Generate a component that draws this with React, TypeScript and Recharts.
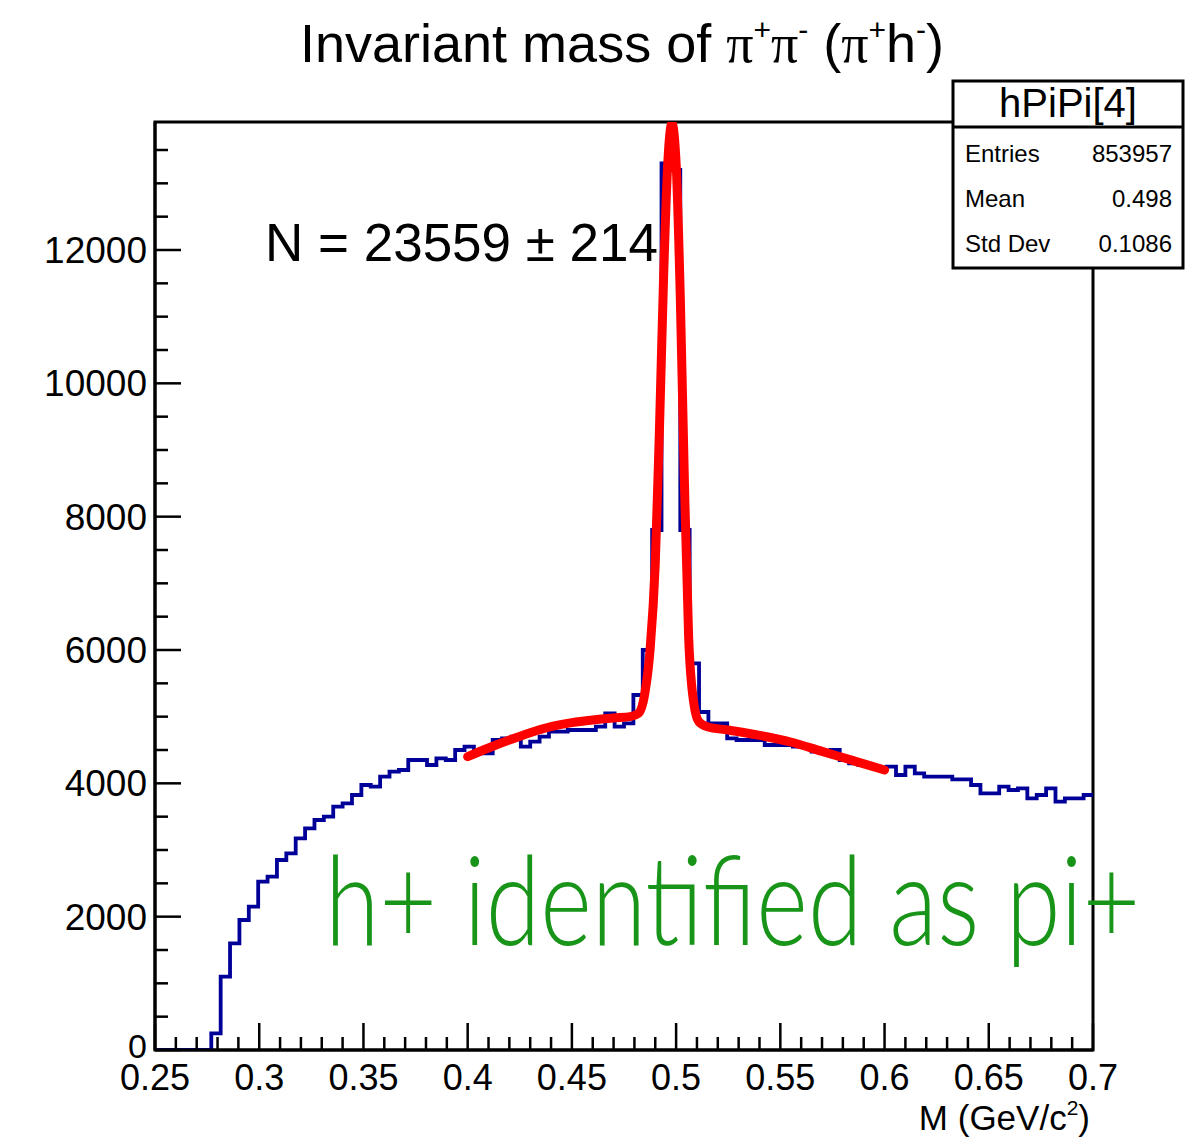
import { ComposedChart, Line, XAxis, YAxis, ReferenceArea } from 'recharts'

// histogram binning: 100 bins from 0.25 to 0.7
const BIN_START = 0.25
const BIN_WIDTH = 0.0045

// counts per bin
const COUNTS = [
  0, 0, 0, 0, 0, 0, 250, 1100, 1600, 1950,
  2150, 2525, 2600, 2850, 2950, 3175, 3325, 3450, 3500, 3650,
  3700, 3825, 3975, 3950, 4100, 4175, 4200, 4350, 4350, 4275,
  4375, 4350, 4500, 4550, 4450, 4450, 4650, 4675, 4700, 4550,
  4625, 4700, 4775, 4775, 4800, 4800, 4800, 4850, 5050, 4850,
  4900, 5325, 6000, 7800, 13300, 13200, 7800, 5800, 5070, 4900,
  4900, 4675, 4650, 4650, 4650, 4575, 4575, 4575, 4550, 4550,
  4475, 4475, 4500, 4350, 4300, 4275, 4250, 4225, 4250, 4125,
  4250, 4150, 4100, 4100, 4100, 4060, 4060, 3975, 3850, 3850,
  3950, 3900, 3925, 3775, 3825, 3925, 3725, 3775, 3775, 3825,
]

// red fit curve, sampled by eye
const FIT_M = [
  0.4, 0.41, 0.42, 0.43, 0.44, 0.45, 0.46, 0.47, 0.478, 0.482,
  0.485, 0.4875, 0.49, 0.492, 0.494, 0.496, 0.498, 0.5, 0.502, 0.504,
  0.506, 0.5085, 0.511, 0.515, 0.525, 0.54, 0.555, 0.57, 0.585, 0.6,
]
const FIT_Y = [
  4400, 4530, 4650, 4760, 4850, 4910, 4950, 4980, 5000, 5050,
  5350, 6000, 7300, 9300, 11600, 13300, 13900, 13300, 11300, 8500,
  6200, 5200, 4920, 4850, 4800, 4720, 4620, 4480, 4340, 4200,
]

const X_TICKS = [
  0.25, 0.26, 0.27, 0.28, 0.29, 0.3, 0.31, 0.32, 0.33, 0.34, 0.35, 0.36,
  0.37, 0.38, 0.39, 0.4, 0.41, 0.42, 0.43, 0.44, 0.45, 0.46, 0.47, 0.48,
  0.49, 0.5, 0.51, 0.52, 0.53, 0.54, 0.55, 0.56, 0.57, 0.58, 0.59, 0.6,
  0.61, 0.62, 0.63, 0.64, 0.65, 0.66, 0.67, 0.68, 0.69, 0.7,
]
const Y_TICKS = [
  0, 500, 1000, 1500, 2000, 2500, 3000, 3500, 4000, 4500, 5000, 5500, 6000,
  6500, 7000, 7500, 8000, 8500, 9000, 9500, 10000, 10500, 11000, 11500,
  12000, 12500, 13000, 13500,
]

const STATS = [
  { label: 'Entries', value: '853957' },
  { label: 'Mean', value: '0.498' },
  { label: 'Std Dev', value: '0.1086' },
]

const FONT = '"Liberation Sans", Arial, Helvetica, sans-serif'
const SERIF = '"Liberation Serif", "Times New Roman", serif'
const Y_MAX = 13920

const histData = COUNTS.map((c, k) => ({ m: +(BIN_START + BIN_WIDTH * k).toFixed(4), n: c }))
histData.push({ m: 0.7, n: COUNTS[COUNTS.length - 1] })

const fitData = FIT_M.map((m, i) => ({ m, n: FIT_Y[i] }))

function XTick(props: any) {
  const { x, y, payload } = props
  const v = payload.value as number
  const major = Math.round(v * 100) % 5 === 0
  return (
    <g>
      <line x1={x} x2={x} y1={y} y2={y - (major ? 27 : 13)} stroke="#000" strokeWidth={2.5} />
      {major && (
        <text x={x} y={y + 40} textAnchor="middle" fontSize={36} fontFamily={FONT} fill="#000">
          {String(v)}
        </text>
      )}
    </g>
  )
}

function YTick(props: any) {
  const { x, y, payload } = props
  const v = payload.value as number
  const major = v % 2000 === 0
  return (
    <g>
      <line x1={x} x2={x + (major ? 26 : 13)} y1={y} y2={y} stroke="#000" strokeWidth={2.5} />
      {major && (
        <text x={x - 8} y={v === 0 ? y + 8 : y + 13} textAnchor="end" fontSize={v === 0 ? 34 : 37} fontFamily={FONT} fill="#000">
          {String(v)}
        </text>
      )}
    </g>
  )
}

export default function App() {
  return (
    <div style={{ position: 'absolute', left: 0, top: 0, width: 1185, height: 1139, background: '#fff' }}>
      <ComposedChart
        width={1185}
        height={1139}
        data={histData}
        margin={{ top: 122, right: 92, bottom: 39, left: 75 }}
      >
        <XAxis
          dataKey="m"
          type="number"
          domain={[0.25, 0.7]}
          ticks={X_TICKS}
          interval={0}
          allowDataOverflow
          height={50}
          tickLine={false}
          tickSize={0}
          tickMargin={0}
          axisLine={{ stroke: '#000', strokeWidth: 3 }}
          tick={<XTick />}
        />
        <YAxis
          type="number"
          domain={[0, Y_MAX]}
          ticks={Y_TICKS}
          interval={0}
          allowDataOverflow
          width={80}
          tickLine={false}
          tickSize={0}
          tickMargin={0}
          axisLine={{ stroke: '#000', strokeWidth: 3 }}
          tick={<YTick />}
        />
        <ReferenceArea
          x1={0.25}
          x2={0.7}
          y1={0}
          y2={Y_MAX}
          fill="none"
          stroke="#000"
          strokeWidth={3}
          ifOverflow="visible"
        />
        <Line
          dataKey="n"
          type="stepAfter"
          stroke="#000099"
          strokeWidth={3.8}
          dot={false}
          activeDot={false}
          isAnimationActive={false}
        />
        <Line
          data={fitData}
          dataKey="n"
          type="monotone"
          stroke="#ff0000"
          strokeWidth={9}
          strokeLinecap="round"
          dot={false}
          activeDot={false}
          isAnimationActive={false}
        />
      </ComposedChart>

      <svg
        width={1185}
        height={1139}
        style={{ position: 'absolute', left: 0, top: 0, pointerEvents: 'none' }}
      >
        <text x={300} y={62} fontSize={54} fontFamily={FONT} fill="#000">
          Invariant mass of{' '}
          <tspan fontFamily={SERIF}>π</tspan>
          <tspan fontSize={30} dy={-22}>+</tspan>
          <tspan fontFamily={SERIF} dy={22}>π</tspan>
          <tspan fontSize={30} dy={-22}>-</tspan>
          <tspan dy={22}> (</tspan>
          <tspan fontFamily={SERIF}>π</tspan>
          <tspan fontSize={30} dy={-22}>+</tspan>
          <tspan dy={22}>h</tspan>
          <tspan fontSize={30} dy={-22}>-</tspan>
          <tspan dy={22}>)</tspan>
        </text>

        <rect x={953} y={81} width={230} height={187} fill="#fff" stroke="#000" strokeWidth={3} />
        <line x1={953} x2={1183} y1={127} y2={127} stroke="#000" strokeWidth={3} />
        <text x={1068} y={117} textAnchor="middle" fontSize={40} fontFamily={FONT} fill="#000">
          hPiPi[4]
        </text>
        {STATS.map((s, i) => (
          <g key={s.label}>
            <text x={965} y={162 + i * 45} fontSize={24} fontFamily={FONT} fill="#000">
              {s.label}
            </text>
            <text x={1172} y={162 + i * 45} textAnchor="end" fontSize={24} fontFamily={FONT} fill="#000">
              {s.value}
            </text>
          </g>
        ))}

        <text x={265} y={261} fontSize={53} fontFamily={FONT} fill="#000">
          N = 23559 ± 214
        </text>

        <text x={1090} y={1130} textAnchor="end" fontSize={35} fontFamily={FONT} fill="#000">
          M (GeV/c<tspan fontSize={21} dy={-15}>2</tspan>
          <tspan dy={15}>)</tspan>
        </text>

        <text
          x={325}
          y={945}
          fontSize={125}
          fontWeight={300}
          fontFamily='Lato, "Noto Sans", sans-serif'
          fill="#189418"
          textLength={815}
          lengthAdjust="spacingAndGlyphs"
        >
          h+ identified as pi+
        </text>
      </svg>
    </div>
  )
}
